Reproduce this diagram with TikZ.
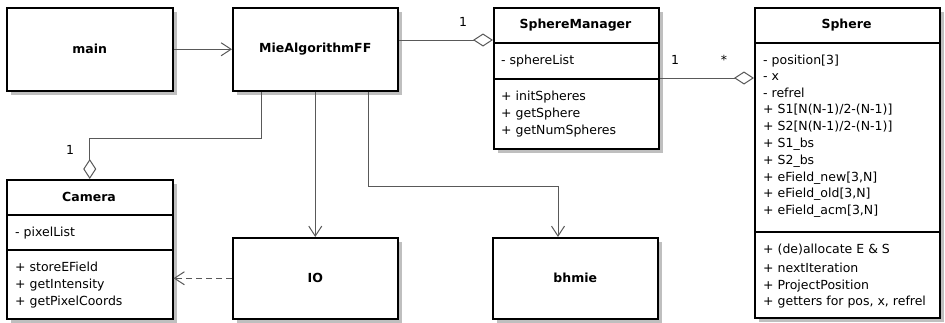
\documentclass[tikz,border=0pt]{standalone}
\usepackage{fontspec}
\setmainfont{DejaVu Sans}
\usetikzlibrary{arrows.meta,calc,shadows}

\begin{document}
\begin{tikzpicture}
[x=1pt,y=-1pt,
classBox/.style={draw,line width=1.5pt,fill=white,inner sep=0pt,anchor=north west,
  font=\bfseries\fontsize{12.5}{15}\selectfont,
  drop shadow={shadow xshift=4pt,shadow yshift=-4pt,fill=black!25,opacity=1}},
classTitle/.style={inner sep=0pt,font=\bfseries\fontsize{12.5}{15}\selectfont},
member/.style={anchor=west,inner sep=0pt,font=\fontsize{12.5}{15}\selectfont},
multLabel/.style={inner sep=0pt,font=\fontsize{12.5}{15}\selectfont},
sepLine/.style={line width=1.3pt},
link/.style={draw=black!65,line width=1pt},
openArrow/.style={-{Straight Barb[length=10pt,width=13pt]}},
aggregate/.style={-{Diamond[open,length=20pt,width=13pt,fill=white]}},
dependency/.style={dash pattern=on 6pt off 4pt}]
\useasboundingbox (0,0) rectangle (945,322);

% plain classes
\node[classBox,minimum width=166pt,minimum height=83pt] (main) at (6,7) {main};
\node[classBox,minimum width=165pt,minimum height=83pt] (Mie) at (232,7) {MieAlgorithmFF};
\node[classBox,minimum width=165pt,minimum height=81pt] (IO) at (232,237) {IO};
\node[classBox,minimum width=165pt,minimum height=81pt] (bhmie) at (492,237) {bhmie};

% SphereManager
\node[classBox,minimum width=165pt,minimum height=141pt] (sphereMgr) at (493,7) {};
\node[classTitle] (sphereMgrTitle) at (575.5,25) {SphereManager};
\draw[sepLine] ($(sphereMgr.north west)+(0,36)$) -- ($(sphereMgr.north east)+(0,36)$);
\draw[sepLine] ($(sphereMgr.north west)+(0,72)$) -- ($(sphereMgr.north east)+(0,72)$);
\node[member] (smAttr1) at (501,61) {- sphereList};
\node[member] (smOp1) at (501,97) {+ initSpheres};
\node[member] (smOp2) at (501,114) {+ getSphere};
\node[member] (smOp3) at (501,131) {+ getNumSpheres};

% Sphere
\node[classBox,minimum width=185pt,minimum height=310pt] (Sphere) at (754,7) {};
\node[classTitle] (sphereTitle) at (846.5,25) {Sphere};
\draw[sepLine] ($(Sphere.north west)+(0,36)$) -- ($(Sphere.north east)+(0,36)$);
\draw[sepLine] ($(Sphere.north west)+(0,225)$) -- ($(Sphere.north east)+(0,225)$);
\node[member] (spAttr1) at (763,61) {- position[3]};
\node[member] (spAttr2) at (763,77) {- x};
\node[member] (spAttr3) at (763,93) {- refrel};
\node[member] (spAttr4) at (763,110) {+ S1[N(N-1)/2-(N-1)]};
\node[member] (spAttr5) at (763,127) {+ S2[N(N-1)/2-(N-1)]};
\node[member] (spAttr6) at (763,144) {+ S1\_bs};
\node[member] (spAttr7) at (763,161) {+ S2\_bs};
\node[member] (spAttr8) at (763,178) {+ eField\_new[3,N]};
\node[member] (spAttr9) at (763,194) {+ eField\_old[3,N]};
\node[member] (spAttr10) at (763,211) {+ eField\_acm[3,N]};
\node[member] (spOp1) at (763,250) {+ (de)allocate E \& S};
\node[member] (spOp2) at (763,268) {+ nextIteration};
\node[member] (spOp3) at (763,286) {+ ProjectPosition};
\node[member] (spOp4) at (763,302) {+ getters for pos, x, refrel};

% Camera
\node[classBox,minimum width=166pt,minimum height=139pt] (Camera) at (6,179) {};
\node[classTitle] (cameraTitle) at (89,197) {Camera};
\draw[sepLine] ($(Camera.north west)+(0,36)$) -- ($(Camera.north east)+(0,36)$);
\draw[sepLine] ($(Camera.north west)+(0,71)$) -- ($(Camera.north east)+(0,71)$);
\node[member] (camAttr1) at (15,233) {- pixelList};
\node[member] (camOp1) at (15,267) {+ storeEField};
\node[member] (camOp2) at (15,285) {+ getIntensity};
\node[member] (camOp3) at (15,302) {+ getPixelCoords};

% relations
\draw[link,openArrow] (main.east) -- (Mie.west);
\draw[link,aggregate] ($(Mie.north east)+(0,33)$) -- ($(sphereMgr.north west)+(0,33)$);
\draw[link,aggregate] ($(sphereMgr.north east)+(0,71)$) -- ($(Sphere.north west)+(0,71)$);
\draw[link,aggregate] ($(Mie.south west)+(29,0)$) -- ++(0,47) -| (Camera.north);
\draw[link,openArrow] (Mie.south) -- (IO.north);
\draw[link,openArrow] ($(Mie.south west)+(136,0)$) -- ++(0,95) -| ($(bhmie.north west)+(66,0)$);
\draw[link,openArrow,dependency] (IO.west) -- (IO.west -| Camera.east);

% multiplicities
\node[multLabel] (mgrMult) at (463,22) {1};
\node[multLabel] (smOne) at (675,60) {1};
\node[multLabel] (smMany) at (724,60) {*};
\node[multLabel] (camMult) at (70,150) {1};
\end{tikzpicture}
\end{document}
